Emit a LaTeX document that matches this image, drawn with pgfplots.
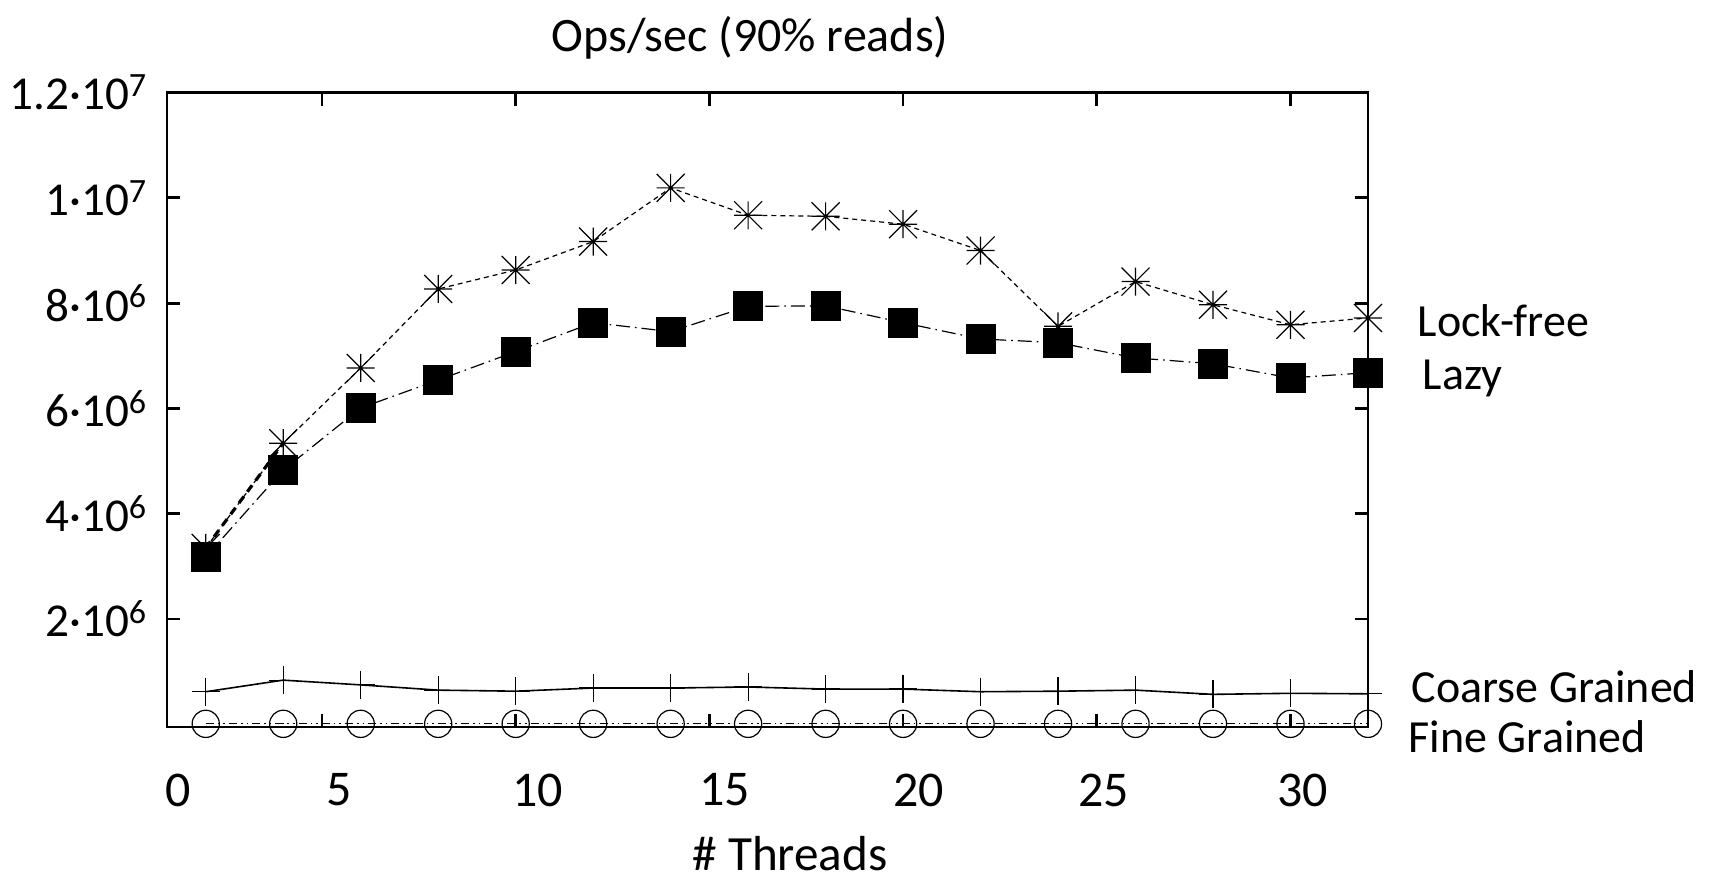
\documentclass[border=0pt]{standalone}
\usepackage{fontspec}
\setmainfont{Carlito}
\usepackage{pgfplots}
\pgfplotsset{compat=1.18}

% gnuplot-style star: plus and cross together
\pgfdeclareplotmark{gstar}{%
  \pgfpathmoveto{\pgfqpoint{-\pgfplotmarksize}{0pt}}%
  \pgfpathlineto{\pgfqpoint{\pgfplotmarksize}{0pt}}%
  \pgfpathmoveto{\pgfqpoint{0pt}{-\pgfplotmarksize}}%
  \pgfpathlineto{\pgfqpoint{0pt}{\pgfplotmarksize}}%
  \pgfpathmoveto{\pgfqpoint{-\pgfplotmarksize}{-\pgfplotmarksize}}%
  \pgfpathlineto{\pgfqpoint{\pgfplotmarksize}{\pgfplotmarksize}}%
  \pgfpathmoveto{\pgfqpoint{-\pgfplotmarksize}{\pgfplotmarksize}}%
  \pgfpathlineto{\pgfqpoint{\pgfplotmarksize}{-\pgfplotmarksize}}%
  \pgfusepathqstroke}

\newcommand{\sexp}[1]{\raisebox{3.3pt}{\fontsize{8.5}{9}\selectfont #1}}

\begin{document}
\begin{tikzpicture}
\useasboundingbox (0,0) rectangle (431.25pt,219.75pt);
\begin{axis}[
    at={(41.75pt,38pt)}, anchor=south west,
    scale only axis,
    width=300.25pt, height=158.6pt,
    xmin=1, xmax=32,
    ymin=-0.05e6, ymax=1.2e7,
    axis line style={line width=0.7pt},
    every tick/.style={black, line width=0.7pt},
    tick align=inside,
    major tick length=3.25pt,
    xtick={5,10,...,30},
    xticklabels={},
    extra x ticks={1.28,5.45,10.56,15.4,20.4,25.18,30.32},
    extra x tick labels={0,5,10,15,20,25,30},
    extra x tick style={major tick length=0pt,
        xticklabel style={inner sep=0pt, anchor=north, yshift=-11.5pt,
        font=\fontsize{12.5}{14}\selectfont}},
    ytick={2e6,4e6,6e6,8e6,1e7,1.2e7},
    yticklabels={2·10\sexp{6},4·10\sexp{6},6·10\sexp{6},8·10\sexp{6},1·10\sexp{7},1.2·10\sexp{7}},
    scaled y ticks=false,
    yticklabel style={inner sep=0pt, anchor=east, xshift=-5pt,
        font=\fontsize{11.8}{14}\selectfont},
]
% Fine Grained
\addplot[black, line width=0.3pt,
    dash pattern=on 2pt off 1pt on 0.4pt off 1pt on 0.4pt off 1pt,
    mark=o, mark size=3.4pt, mark options={solid, line width=0.3pt}]
coordinates {(2,0.01e6)(4,0.01e6)(6,0.01e6)(8,0.01e6)(10,0.01e6)(12,0.01e6)(14,0.01e6)(16,0.01e6)
(18,0.01e6)(20,0.01e6)(22,0.01e6)(24,0.01e6)(26,0.01e6)(28,0.01e6)(30,0.01e6)(32,0.01e6)};
% Coarse Grained
\addplot[black, line width=0.4pt, mark=+, mark size=3.5pt, mark options={line width=0.3pt}]
coordinates {(2,0.62e6)(4,0.84e6)(6,0.75e6)(8,0.65e6)(10,0.63e6)(12,0.69e6)(14,0.69e6)(16,0.71e6)
(18,0.67e6)(20,0.67e6)(22,0.62e6)(24,0.63e6)(26,0.65e6)(28,0.57e6)(30,0.59e6)(32,0.58e6)};
% Lock-free
\addplot[black, line width=0.3pt, dash pattern=on 1.25pt off 1pt,
    mark=gstar, mark size=3.5pt, mark options={solid, line width=0.3pt}]
coordinates {(2,3.35e6)(4,5.34e6)(6,6.77e6)(8,8.27e6)(10,8.63e6)(12,9.17e6)(14,10.19e6)(16,9.67e6)
(18,9.65e6)(20,9.50e6)(22,9.00e6)(24,7.56e6)(26,8.41e6)(28,7.97e6)(30,7.59e6)(32,7.72e6)};
\addplot[black, line width=0.8pt, dash pattern=on 2pt off 1.5pt]
coordinates {(2,3.35e6)(4,5.34e6)};
% Lazy
\addplot[black, line width=0.3pt, dash pattern=on 3.5pt off 1.25pt on 0.4pt off 1.25pt,
    mark=square*, mark size=3.6pt, mark options={solid, fill=black}]
coordinates {(2,3.18e6)(4,4.83e6)(6,6.01e6)(8,6.54e6)(10,7.08e6)(12,7.63e6)(14,7.46e6)(16,7.94e6)
(18,7.95e6)(20,7.63e6)(22,7.32e6)(24,7.25e6)(26,6.96e6)(28,6.85e6)(30,6.58e6)(32,6.68e6)};
\end{axis}
\begin{scope}[every node/.style={inner sep=0pt, font=\fontsize{11.5}{13}\selectfont}]
\node[anchor=base] at (187.5pt,206.75pt) {\fontsize{12}{14}\selectfont Ops/sec (90\% reads)};
\node[anchor=base] at (197.5pt,2.2pt) {\fontsize{12.3}{14}\selectfont \# Threads};
\node[anchor=base west] at (354.25pt,135.5pt) {Lock-free};
\node[anchor=base west] at (355.5pt,122.25pt) {Lazy};
\node[anchor=base west] at (352.75pt,44.25pt) {Coarse Grained};
\node[anchor=base west] at (352pt,31.5pt) {Fine Grained};
\end{scope}
\end{tikzpicture}
\end{document}
